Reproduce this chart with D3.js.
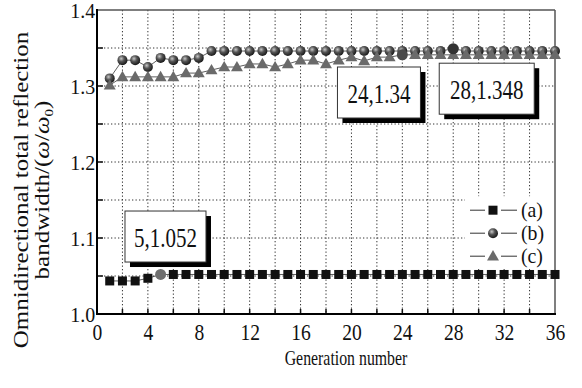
<!DOCTYPE html>
<html>
<head>
<meta charset="utf-8">
<script src="https://cdn.jsdelivr.net/npm/d3@7"></script>
<style>
  body { margin: 0; background: #fff; }
  svg, svg text { font-family: "Liberation Serif", "Times New Roman", "DejaVu Serif", "Noto Serif", "Nimbus Roman", Tinos, FreeSerif, Times, serif; }
  svg text { fill: #111; }
</style>
</head>
<body>
<div id="chart"></div>
<script>
// Generation number vs omnidirectional total reflection bandwidth, three structures.
const generations = d3.range(1, 37);
const seriesA = [1.0435, 1.0435, 1.0435, 1.047, 1.052, 1.052, 1.052, 1.052, 1.052, 1.052, 1.052, 1.052,
  1.052, 1.052, 1.052, 1.052, 1.052, 1.052, 1.052, 1.052, 1.052, 1.052, 1.052, 1.052,
  1.052, 1.052, 1.052, 1.052, 1.052, 1.052, 1.052, 1.052, 1.052, 1.052, 1.052, 1.052];
const seriesB = [1.310, 1.334, 1.334, 1.325, 1.337, 1.334, 1.334, 1.337, 1.346, 1.346, 1.346, 1.346,
  1.346, 1.346, 1.346, 1.346, 1.346, 1.346, 1.346, 1.346, 1.346, 1.346, 1.346, 1.346,
  1.346, 1.346, 1.346, 1.349, 1.346, 1.346, 1.346, 1.346, 1.346, 1.346, 1.346, 1.346];
const seriesC = [1.301, 1.312, 1.312, 1.312, 1.312, 1.312, 1.317, 1.317, 1.321, 1.325, 1.325, 1.329,
  1.329, 1.325, 1.329, 1.334, 1.334, 1.329, 1.334, 1.338, 1.333, 1.338, 1.338, 1.341,
  1.341, 1.341, 1.341, 1.341, 1.341, 1.341, 1.341, 1.341, 1.341, 1.341, 1.341, 1.341];
const seriesNames = ["(a)", "(b)", "(c)"];
const xTicks = [0, 4, 8, 12, 16, 20, 24, 28, 32, 36];
const yTicks = [1.0, 1.1, 1.2, 1.3, 1.4];
// annotated points: series index, generation, label, box top-left corner in data units
const notes = [
  { s: 0, gen: 5, label: "5,1.052", bx: 2.2, by: 1.1355, bw: 81 },
  { s: 2, gen: 24, label: "24,1.34", bx: 18.9, by: 1.325, bw: 83 },
  { s: 1, gen: 28, label: "28,1.348", bx: 26.9, by: 1.330, bw: 95 },
];

const W = 582, H = 388;
const m = { top: 10, right: 27, bottom: 74, left: 97 };
const iw = W - m.left - m.right, ih = H - m.top - m.bottom;
const SERIF = "Liberation Serif, Times New Roman, DejaVu Serif, serif";

const svg = d3.select("#chart").append("svg").attr("width", W).attr("height", H)
  .attr("font-family", SERIF);
const defs = svg.append("defs");
const rg = defs.append("radialGradient").attr("id", "ball").attr("cx", "38%").attr("cy", "35%").attr("r", "65%");
rg.append("stop").attr("offset", "0%").attr("stop-color", "#c8c8c8");
rg.append("stop").attr("offset", "45%").attr("stop-color", "#555");
rg.append("stop").attr("offset", "100%").attr("stop-color", "#1a1a1a");

const g = svg.append("g").attr("transform", `translate(${m.left},${m.top})`);
const x = d3.scaleLinear().domain([0, 36]).range([0, iw]);
const y = d3.scaleLinear().domain([1.0, 1.4]).range([ih, 0]);

// dotted grid
const dash = "1.3,2.2";
const xMinor = d3.range(2, 36, 2);
const yMinor = d3.range(1, 8).map((i) => 1 + i * 0.05);
g.append("g").selectAll("line").data(xMinor).join("line")
  .attr("x1", (d) => x(d)).attr("x2", (d) => x(d)).attr("y1", 0).attr("y2", ih)
  .attr("stroke", "#333").attr("stroke-width", 1).attr("stroke-dasharray", dash);
g.append("g").selectAll("line").data(yMinor).join("line")
  .attr("x1", 0).attr("x2", iw).attr("y1", (d) => y(d)).attr("y2", (d) => y(d))
  .attr("stroke", "#333").attr("stroke-width", 1).attr("stroke-dasharray", dash);

// inward minor ticks
g.append("g").selectAll("line").data(xMinor).join("line")
  .attr("x1", (d) => x(d)).attr("x2", (d) => x(d)).attr("y1", ih).attr("y2", ih - 5)
  .attr("stroke", "#111").attr("stroke-width", 1.5);
g.append("g").selectAll("line").data(yMinor).join("line")
  .attr("x1", 0).attr("x2", 6).attr("y1", (d) => y(d)).attr("y2", (d) => y(d))
  .attr("stroke", "#111").attr("stroke-width", 1.5);

// frame
g.append("line").attr("x1", 0).attr("x2", iw).attr("y1", 0).attr("y2", 0).attr("stroke", "#555").attr("stroke-width", 1.5);
g.append("line").attr("x1", iw).attr("x2", iw).attr("y1", 0).attr("y2", ih).attr("stroke", "#555").attr("stroke-width", 1.5);
g.append("line").attr("x1", 0).attr("x2", 0).attr("y1", -1).attr("y2", ih + 1).attr("stroke", "#000").attr("stroke-width", 2);
g.append("line").attr("x1", -1).attr("x2", iw + 1).attr("y1", ih).attr("y2", ih).attr("stroke", "#000").attr("stroke-width", 2);

// tick labels (the source figure is squeezed horizontally, so text is too)
const gx = g.append("g").attr("transform", `translate(0,${ih})`)
  .call(d3.axisBottom(x).tickValues(xTicks).tickSize(0).tickPadding(0).tickFormat(d3.format("d")));
gx.select(".domain").remove();
gx.attr("font-family", SERIF).selectAll("text").attr("font-size", 23).attr("dy", null).attr("y", 26)
  .attr("transform", "scale(0.85,1)");
const gy = g.append("g")
  .call(d3.axisLeft(y).tickValues(yTicks).tickSize(0).tickPadding(0).tickFormat(d3.format(".1f")));
gy.select(".domain").remove();
gy.attr("font-family", SERIF).selectAll("text").attr("font-size", 21).attr("x", -2).attr("dy", "0.36em")
  .attr("transform", "scale(0.95,1)");

// axis titles
svg.append("text").attr("transform", "translate(346,365) scale(0.72,1)").attr("text-anchor", "middle")
  .attr("font-size", 22).text("Generation number");
const yt = svg.append("text").attr("transform", "translate(0,190) rotate(-90) scale(1,0.8)")
  .attr("text-anchor", "middle").attr("font-size", 25);
yt.append("tspan").attr("x", 0).attr("y", 35).text("Omnidirectional total reflection");
const l2 = yt.append("tspan").attr("x", 0).attr("y", 61);
l2.append("tspan").text("bandwidth/(");
l2.append("tspan").attr("font-style", "italic").text("ω");
l2.append("tspan").text("/");
l2.append("tspan").attr("font-style", "italic").text("ω");
l2.append("tspan").attr("font-size", 15).attr("dy", 5).text("0");
l2.append("tspan").attr("dy", -5).text(")");

// series
const data = [seriesA, seriesB, seriesC].map((vals) => generations.map((gen, i) => ({ gen, v: vals[i] })));
const line = d3.line().x((d) => x(d.gen)).y((d) => y(d.v));
data.forEach((pts) => {
  g.append("path").datum(pts).attr("d", line).attr("fill", "none").attr("stroke", "#333").attr("stroke-width", 0.8);
});

function marker(sel, s, cx, cy) {
  if (s === 0) sel.append("rect").attr("x", cx - 4.5).attr("y", cy - 4.5).attr("width", 9).attr("height", 9).attr("fill", "#111");
  else if (s === 1) sel.append("circle").attr("cx", cx).attr("cy", cy).attr("r", 5).attr("fill", "url(#ball)");
  else sel.append("path").attr("d", d3.symbol(d3.symbolTriangle, 62)()).attr("transform", `translate(${cx},${cy + 0.8})`).attr("fill", "#6a6a6a");
}
[0, 1, 2].forEach((s) => {
  const mg = g.append("g");
  data[s].forEach((d) => {
    if (notes.some((n) => n.s === s && n.gen === d.gen)) return;
    marker(mg, s, x(d.gen), y(d.v));
  });
});
// highlighted (annotated) points
const hlFill = ["#6f6f6f", "#333", "#4a4a4a"];
notes.forEach((n) => {
  const d = data[n.s][n.gen - 1];
  g.append("circle").attr("cx", x(d.gen)).attr("cy", y(d.v)).attr("r", 5.5).attr("fill", hlFill[n.s]);
});

// annotation boxes with drop shadow
notes.forEach((n) => {
  const bx = x(n.bx), by = y(n.by), bw = n.bw, bh = 51;
  g.append("rect").attr("x", bx + 5).attr("y", by + 5).attr("width", bw).attr("height", bh).attr("fill", "#000");
  g.append("rect").attr("x", bx).attr("y", by).attr("width", bw).attr("height", bh)
    .attr("fill", "#fff").attr("stroke", "#333").attr("stroke-width", 1);
  g.append("text").attr("transform", `translate(${bx + bw / 2},${by + bh / 2 + 10}) scale(0.75,1)`)
    .attr("text-anchor", "middle").attr("font-size", 28).text(n.label);
});

// legend
const lg = g.append("g").attr("transform", `translate(${iw - 90},${y(1.155)})`);
lg.append("rect").attr("x", 0).attr("y", 0).attr("width", 89).attr("height", 72).attr("fill", "#fff");
seriesNames.forEach((name, s) => {
  const cy = 14 + s * 23;
  lg.append("line").attr("x1", 5).attr("x2", 20).attr("y1", cy).attr("y2", cy).attr("stroke", "#333").attr("stroke-width", 1);
  lg.append("line").attr("x1", 36).attr("x2", 52).attr("y1", cy).attr("y2", cy).attr("stroke", "#333").attr("stroke-width", 1);
  marker(lg, s, 28, cy);
  lg.append("text").attr("transform", `translate(56,${cy + 7}) scale(0.9,1)`).attr("font-size", 22).text(name);
});
</script>
</body>
</html>
